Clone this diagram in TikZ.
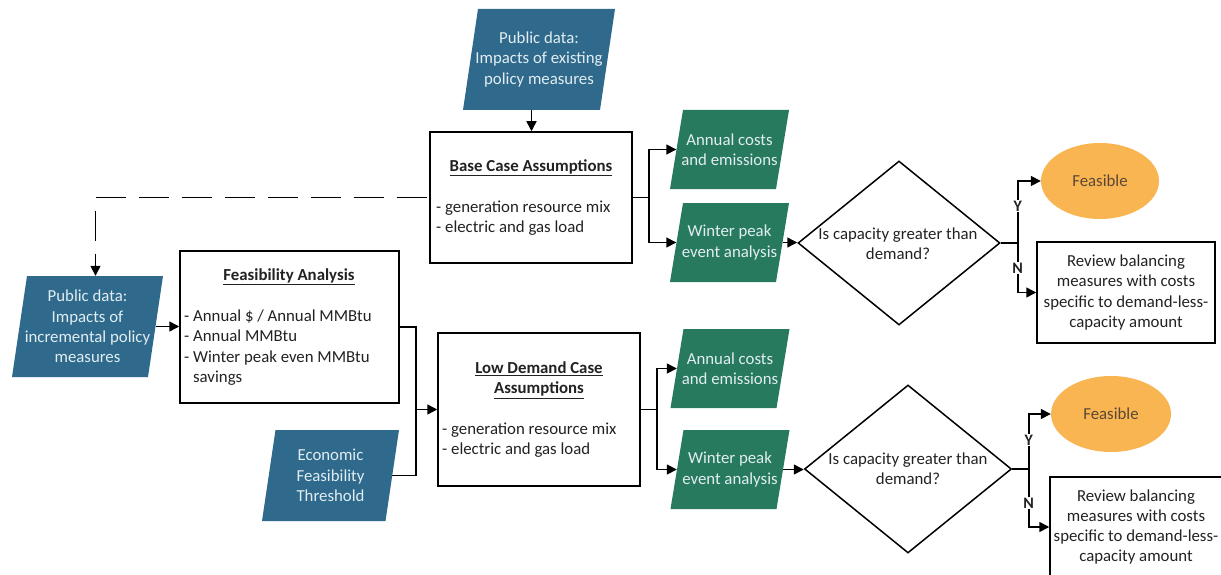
\documentclass[tikz,border=0pt]{standalone}
\usepackage{fontspec}
\setmainfont{Carlito}
\usetikzlibrary{shapes.geometric,arrows.meta,calc}
\definecolor{blueC}{HTML}{2F6A8D}
\definecolor{greenC}{HTML}{277A5E}
\definecolor{orangeC}{HTML}{F8B552}
\definecolor{txtL}{HTML}{E2EDF1}
\definecolor{txtD}{HTML}{222222}
\definecolor{txtF}{HTML}{5A4835}
\begin{document}
\begin{tikzpicture}[x=1pt,y=-1pt,
  every node/.style={font=\fontsize{16.8}{20.3}\selectfont, text=txtD},
  para/.style 2 args={draw=none, inner sep=0pt, text=txtL, align=center,
    path picture={\fill[#2] (path picture bounding box.south west) -- ($(path picture bounding box.south east)+(-#1,0)$) -- (path picture bounding box.north east) -- ($(path picture bounding box.north west)+(#1,0)$) -- cycle;}},
  bluep/.style={para={15}{blueC}},
  greenp/.style={para={13}{greenC}, minimum width=119pt, minimum height=79pt},
  box/.style={draw=black, line width=1.5pt, fill=white, inner sep=0pt},
  decision/.style={diamond, draw=black, line width=1.5pt, fill=white, inner sep=0pt},
  feasnode/.style={ellipse, fill=orangeC, draw=none, inner sep=0pt, text=txtF},
  ln/.style={line width=1.5pt},
  arr/.style={line width=1.5pt, -{Triangle[length=10pt,width=10pt]}},
  dashln/.style={line width=1.5pt, dash pattern=on 30pt off 13pt},
  yn/.style={font=\bfseries\fontsize{16}{17}\selectfont, fill=white, inner sep=1pt}
]
\useasboundingbox (0,0) rectangle (1221,575);
\clip (0,0) rectangle (1221,575);

% input parallelograms
\node[bluep, minimum width=152pt, minimum height=101pt] (pub1) at (539,59.5) {Public data:\\Impacts of existing\\policy measures};
\node[bluep, minimum width=151pt, minimum height=101pt] (pub2) at (87.5,326.5) {Public data:\\Impacts of\\incremental policy\\measures};
\node[para={13.5}{blueC}, minimum width=137pt, minimum height=91pt] (eco) at (330.5,475.5) {Economic\\Feasibility\\Threshold};

% boxes
\node[box, minimum width=202pt, minimum height=131pt] (base) at (531,197.5) {};
\node (baset) at (531,168) {\underline{\textbf{Base Case Assumptions}}};
\node[anchor=west, align=left, inner sep=0pt] (baseb) at (436,218) {- generation resource mix\\- electric and gas load};

\node[box, minimum width=219pt, minimum height=152pt] (feas) at (289.5,327) {};
\node (feast) at (289,277) {\underline{\textbf{Feasibility Analysis}}};
\node[anchor=west, align=left, inner sep=0pt] (feasb) at (184,347.5) {- Annual \$ / Annual MMBtu\\- Annual MMBtu\\- Winter peak even MMBtu\\\phantom{- }savings};

\node[box, minimum width=202pt, minimum height=153pt] (low) at (539,409.5) {};
\node[align=center, inner sep=0pt] (lowt) at (539,380) {\underline{\textbf{Low Demand Case}}\\\underline{\textbf{Assumptions}}};
\node[anchor=west, align=left, inner sep=0pt] (lowb) at (442,440) {- generation resource mix\\- electric and gas load};

% outputs
\node[greenp] (ann1) at (729.5,149.5) {Annual costs\\and emissions};
\node[greenp] (win1) at (729.5,242.5) {Winter peak\\event analysis};
\node[greenp] (ann2) at (730,368.5) {Annual costs\\and emissions};
\node[greenp] (win2) at (730,469.5) {Winter peak\\event analysis};

% decisions
\node[decision, minimum width=202pt, minimum height=164pt] (d1) at (899,243) {};
\node[align=center, inner sep=0pt] (d1t) at (898,243.5) {Is capacity greater than\\demand?};
\node[decision, minimum width=207pt, minimum height=168pt] (d2) at (908,469) {};
\node[align=center, inner sep=0pt] (d2t) at (908,468.5) {Is capacity greater than\\demand?};

% results
\node[feasnode, minimum width=118pt, minimum height=76pt] (f1) at (1100,181) {Feasible};
\node[feasnode, minimum width=120pt, minimum height=76pt] (f2) at (1111,414) {Feasible};
\node[box, minimum width=178pt, minimum height=101pt, align=center] (rev1) at (1126,292.5) {Review balancing\\measures with costs\\specific to demand-less-\\capacity amount};
\node[box, minimum width=172pt, minimum height=100pt, align=center] (rev2) at (1136,527) {Review balancing\\measures with costs\\specific to demand-less-\\capacity amount};

% side midpoints of the parallelograms
\coordinate (pub1b) at ($(pub1.south)+(-7.5,0)$);
\coordinate (pub2r) at ($(pub2.east)+(-7.5,0)$);
\coordinate (ecor) at ($(eco.east)+(-6.75,0)$);
\coordinate (ann1l) at ($(ann1.west)+(6.5,0)$);
\coordinate (win1l) at ($(win1.west)+(6.5,0)$);
\coordinate (win1r) at ($(win1.east)+(-6.5,0)$);
\coordinate (ann2l) at ($(ann2.west)+(6.5,0)$);
\coordinate (win2l) at ($(win2.west)+(6.5,0)$);
\coordinate (win2r) at ($(win2.east)+(-6.5,0)$);

% connectors
\draw[arr] (pub1b) -- (pub1b |- base.north);
\draw[ln] (base.east) -- ++(16,0) coordinate (j1);
\draw[arr] (j1) |- (ann1l);
\draw[arr] (j1) |- (win1l);
\draw[arr] (win1r) -- (win1r -| d1.west);
\draw[ln] (d1.east) -- ++(17,0) coordinate (j2);
\draw[arr] (j2) |- (f1.west);
\draw[arr] (j2) |- (rev1.west);
\node[yn] (y1) at ($(j2)+(0,-37)$) {Y};
\node[yn] (n1) at ($(j2)+(0,25)$) {N};

\coordinate (dc) at (95.5,197.5);
\draw[dashln] (dc) -- (base.west);
\draw[dashln, dash phase=30pt, -{Triangle[length=10pt,width=10pt]}] (dc) -- (dc |- pub2.north);
\draw[arr] (pub2r) -- (pub2r -| feas.west);
\draw[arr] (feas.east) -- ++(16,0) coordinate (j4) |- (low.west);
\draw[ln] (ecor) -| (j4);

\draw[ln] (low.east) -- ++(16,0) coordinate (j5);
\draw[arr] (j5) |- (ann2l);
\draw[arr] (j5) |- (win2l);
\draw[arr] (win2r) -- (win2r -| d2.west);
\draw[ln] (d2.east) -- ++(16.5,0) coordinate (j3);
\draw[arr] (j3) |- (f2.west);
\draw[arr] (j3) |- (rev2.west);
\node[yn] (y2) at ($(j3)+(0,-29)$) {Y};
\node[yn] (n2) at ($(j3)+(0,34)$) {N};
\end{tikzpicture}
\end{document}
